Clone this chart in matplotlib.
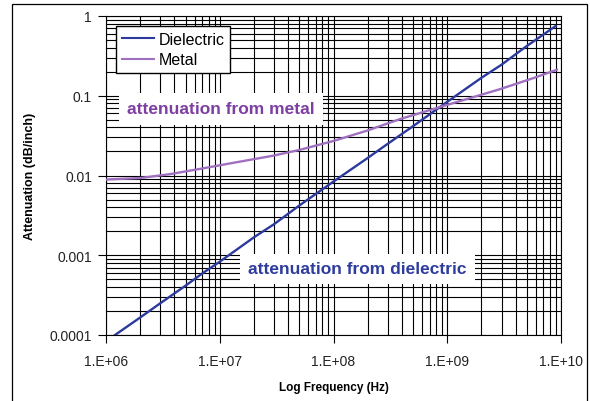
import matplotlib
matplotlib.use("Agg")
import matplotlib.pyplot as plt
from matplotlib.patches import Rectangle
from matplotlib.ticker import LogLocator, NullFormatter

plt.rcParams['font.family'] = ['Liberation Sans', 'DejaVu Sans']

# ---- data ----
diel_freq = [1.2e6, 2e6, 3e6, 5e6, 7e6, 1e7, 2e7, 3e7, 5e7, 1e8, 2e8, 3e8,
             5e8, 1e9, 2e9, 3e9, 5e9, 9e9]
diel_att = [1.0e-4, 1.66e-4, 2.5e-4, 4.15e-4, 5.9e-4, 8.3e-4, 1.68e-3, 2.45e-3,
            4.2e-3, 8.4e-3, 1.66e-2, 2.5e-2, 4.15e-2, 8.4e-2, 0.168, 0.245, 0.42, 0.75]

metal_freq = [1.0e6, 2.0e6, 3.65e6, 6.7e6, 1.31e7, 2.94e7, 5.07e7, 9.9e7,
              1.97e8, 3.85e8, 7.5e8, 1.49e9, 2.91e9, 5.68e9, 9.2e9]
metal_att = [0.0089, 0.0093, 0.0104, 0.0121, 0.0144, 0.0177, 0.0210, 0.027,
             0.0365, 0.051, 0.068, 0.091, 0.121, 0.166, 0.212]

series_names = ["Dielectric", "Metal"]
xtick_values = [1e6, 1e7, 1e8, 1e9, 1e10]
xtick_labels = ["1.E+06", "1.E+07", "1.E+08", "1.E+09", "1.E+10"]
ytick_values = [1e-4, 1e-3, 1e-2, 1e-1, 1]
ytick_labels = ["0.0001", "0.001", "0.01", "0.1", "1"]

x_title = "Log Frequency (Hz)"
y_title = "Attenuation (dB/inch)"
note_metal = "attenuation from metal"
note_diel = "attenuation from dielectric"

diel_color = "#2B3A9C"
metal_color = "#A070C0"

# ---- figure ----
W, H = 590, 402
fig = plt.figure(figsize=(W / 100, H / 100), dpi=100)
fig.patch.set_facecolor("white")

# outer chart border
fig.patches.append(Rectangle((12 / W, -0.02), 575 / W, 1.02 - 5 / H,
                             transform=fig.transFigure, fill=False,
                             edgecolor="black", linewidth=0.9))

ax = fig.add_axes([106 / W, 1 - 336 / H, 455 / W, 319 / H])
ax.set_xscale("log")
ax.set_yscale("log")
ax.set_xlim(1e6, 1e10)
ax.set_ylim(1e-4, 1)

ax.plot(diel_freq, diel_att, color=diel_color, lw=1.7, label=series_names[0], zorder=3)
ax.plot(metal_freq, metal_att, color=metal_color, lw=1.7, label=series_names[1], zorder=3)

ax.set_xticks(xtick_values)
ax.set_xticklabels(xtick_labels)
ax.set_yticks(ytick_values)
ax.set_yticklabels(ytick_labels)
ax.xaxis.set_minor_locator(LogLocator(base=10, subs=range(2, 10), numticks=100))
ax.yaxis.set_minor_locator(LogLocator(base=10, subs=range(2, 10), numticks=100))
ax.xaxis.set_minor_formatter(NullFormatter())
ax.yaxis.set_minor_formatter(NullFormatter())

ax.grid(True, which="both", color="black", lw=0.8)
ax.set_axisbelow(True)
ax.tick_params(which="minor", length=0)
ax.tick_params(which="major", direction="out", length=6, width=0.8,
               labelsize=10, color="black", labelcolor="#222222")
ax.tick_params(axis="x", pad=8)
ax.tick_params(axis="y", pad=4)
for s in ax.spines.values():
    s.set_color("black")
    s.set_linewidth(0.8)

ax.set_xlabel(x_title, fontsize=8.5, fontweight="bold", labelpad=9)
ax.set_ylabel(y_title, fontsize=9, fontweight="bold", labelpad=10)

ax.text((221 - 106) / 455, 1 - (110 - 17) / 319, note_metal, transform=ax.transAxes,
        ha="center", va="center", fontsize=12.5, fontweight="bold", color="#7E3FA2",
        bbox=dict(boxstyle="square,pad=0.5", facecolor="white", edgecolor="none"),
        zorder=5)
ax.text((357.5 - 106) / 455, 1 - (270 - 17) / 319, note_diel, transform=ax.transAxes,
        ha="center", va="center", fontsize=12.5, fontweight="bold", color="#2E3C9E",
        bbox=dict(boxstyle="square,pad=0.45", facecolor="white", edgecolor="none"),
        zorder=5)

leg = ax.legend(loc="upper left", bbox_to_anchor=(116 / W, 1 - 27 / H),
                bbox_transform=fig.transFigure, borderaxespad=0, fontsize=11.5,
                fancybox=False, framealpha=1, edgecolor="black", handlelength=2.0,
                handletextpad=0.3, borderpad=0.35, labelspacing=0.35)
leg.get_frame().set_linewidth(1.0)
leg.set_zorder(6)
for h in leg.get_lines():
    h.set_linewidth(1.5)

fig.savefig("out.png", dpi=100)
